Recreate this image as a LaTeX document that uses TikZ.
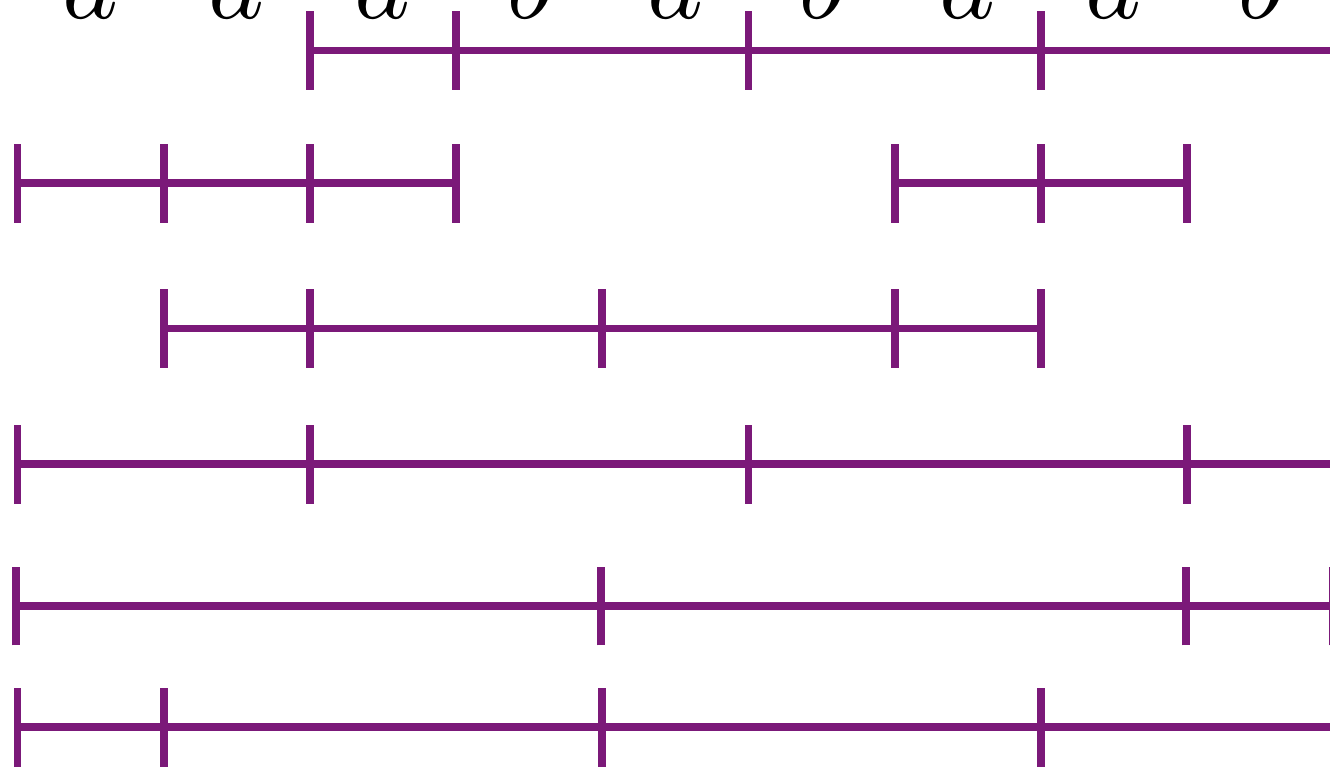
\documentclass[tikz,border=0pt]{standalone}
\usepackage{tikz}
\definecolor{tilepurple}{RGB}{123,25,121}
% one cut mark per listed position, on the row at height #1
\newcommand{\cuts}[2]{\foreach \t in {#2} \draw[seg] (\t,#1-0.27) -- (\t,#1+0.27);}

\begin{document}
\begin{tikzpicture}[x=1cm,y=1cm,
  seg/.style={tilepurple,line width=1.52pt},
  letter/.style={scale=2.07,anchor=base,inner sep=0pt}]
\useasboundingbox (-0.12,0) rectangle (8.977,-5.26);
% the word on top
\foreach \w [count=\i from 0] in {a,a,a,b,a,b,a,a,b}
  \node[letter] (w\i) at (\i+0.5,-0.13) {$\w$};
% row 1
\draw[seg] (2,-0.345) -- (9.3,-0.345);
\cuts{-0.345}{2,3,5,7}
% row 2
\draw[seg] (0,-1.252) -- (3,-1.252);
\draw[seg] (6,-1.252) -- (8,-1.252);
\cuts{-1.252}{0,1,2,3,6,7,8}
% row 3
\draw[seg] (1,-2.247) -- (7,-2.247);
\cuts{-2.247}{1,2,4,6,7}
% row 4
\draw[seg] (0,-3.174) -- (9.3,-3.174);
\cuts{-3.174}{0,2,5,8}
% row 5
\draw[seg] (-0.01,-4.145) -- (9.3,-4.145);
\cuts{-4.145}{-0.01,3.99,7.99,9}
% row 6
\draw[seg] (0,-4.973) -- (9.3,-4.973);
\cuts{-4.973}{0,1,4,7}
\end{tikzpicture}
\end{document}
